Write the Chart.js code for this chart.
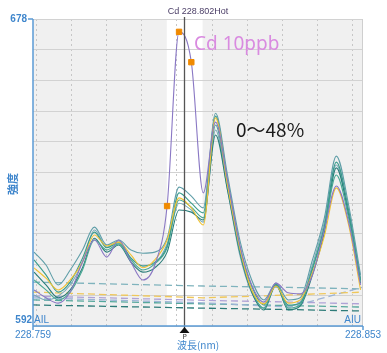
<!DOCTYPE html>
<html><head><meta charset="utf-8">
<script src="https://cdn.jsdelivr.net/npm/chart.js@4/dist/chart.umd.min.js"></script>
<style>html,body{margin:0;padding:0;background:#fff}#wrap{width:387px;height:353px;position:relative}</style>
</head><body><div id="wrap"><canvas id="c" width="387" height="353"></canvas></div>
<script>
// ---- data ----
const wavelengths = [228.7593, 228.7627, 228.7662, 228.7696, 228.7731, 228.7765, 228.7800, 228.7834, 228.7869, 228.7903,
  228.7937, 228.7972, 228.8006, 228.8041, 228.8075, 228.8110, 228.8144, 228.8179, 228.8213, 228.8248,
  228.8282, 228.8317, 228.8351, 228.8386, 228.8420, 228.8454, 228.8489, 228.8523];
const cd10ppb = [602.1, 599.9, 598.4, 601.5, 609.9, 616.1, 611.3, 616.1, 609.9, 604.9,
  609.1, 625.6, 674.4, 665.9, 629.3, 649.1, 632.9, 614.7, 603.5, 598.7,
  604.0, 601.3, 601.0, 606.3, 618.9, 631.2, 621.1, 603.5];
const sampleA = [612.7, 609.1, 603.5, 607.7, 613.3, 619.7, 614.7, 616.1, 613.3, 612.4,
  612.7, 616.6, 630.9, 628.4, 625.1, 651.6, 634.3, 616.1, 604.9, 599.3,
  604.0, 599.3, 599.9, 610.5, 622.3, 639.6, 625.9, 606.3];
const sampleB = [610.5, 606.3, 601.5, 604.3, 611.0, 618.3, 613.9, 615.3, 611.0, 608.8,
  609.9, 614.4, 629.3, 626.4, 623.7, 650.8, 632.9, 614.4, 603.2, 597.9,
  603.8, 597.9, 598.4, 608.3, 620.0, 637.9, 624.5, 604.9];
const sampleC = [607.1, 603.5, 599.9, 602.1, 608.3, 616.6, 612.7, 614.7, 609.9, 607.1,
  608.3, 612.7, 624.5, 623.9, 621.7, 645.5, 630.1, 612.7, 601.5, 596.5,
  603.5, 596.5, 597.6, 606.3, 618.3, 636.3, 623.1, 604.0];
const sampleD = [608.3, 605.4, 602.1, 604.9, 609.9, 617.5, 614.4, 615.5, 611.9, 608.3,
  610.5, 616.1, 627.9, 625.1, 620.3, 650.3, 631.5, 613.9, 602.1, 598.2,
  603.2, 598.4, 599.3, 606.9, 617.2, 630.7, 620.3, 602.1];
const sampleE = [604.9, 602.1, 599.3, 601.5, 607.7, 616.1, 613.3, 615.0, 610.5, 607.7,
  609.4, 613.9, 627.3, 625.3, 622.3, 648.3, 631.5, 613.3, 602.1, 597.0,
  603.8, 597.0, 597.9, 607.7, 619.5, 634.3, 622.3, 604.3];
const sampleF = [600.7, 599.3, 600.4, 603.5, 609.9, 618.9, 614.1, 615.8, 611.0, 608.8,
  609.6, 615.0, 626.4, 624.5, 621.1, 646.9, 630.1, 611.9, 601.3, 597.0,
  603.2, 597.6, 598.7, 609.1, 621.1, 637.1, 623.9, 605.4];
// peak-search points on the Cd line
const peakPointsX = [228.7972, 228.8006, 228.8041];
const peakPointsY = [625.6, 674.4, 665.9];
// background baselines
const baselineX = [228.759, 228.8075, 228.8322, 228.853];
const baseline1 = [604.3, 603.2, 602.8, 602.4];
const baseline2 = [601.5, 599.9, 600.7, 601.5];
const baseline3 = [599.9, 598.5, 597.3, 602.9];
const baseline4 = [599.3, 598.2, 597.7, 597.3];
const baseline5 = [597.9, 597.0, 596.6, 596.2];
const baseline6 = [600.4, 599.2, 598.7, 598.2];
const xMin = 228.759, xMax = 228.853, yMin = 592, yMax = 678;
const peakWavelength = 228.802;
const windowLow = 228.7971, windowHigh = 228.8073;
const xGrid = [228.760, 228.770, 228.780, 228.790, 228.800, 228.810, 228.820, 228.830, 228.840, 228.850];
const yGrid = [592, 600.6, 609.2, 617.8, 626.4, 635, 643.6, 652.2, 660.8, 669.4, 678];
const xLabels = ['228.759', '228.853'];
const yLabels = ['678', '592'];
const chartTitle = 'Cd 228.802Hot';
const xTitle = '波長(nm)';
const yTitle = '強度';
const note1 = 'Cd 10ppb';
const note2 = '0～48%';

const pts = (xs, ys) => xs.map((x, i) => ({x, y: ys[i]}));
const solid = (data, color) => ({data: pts(wavelengths, data), borderColor: color, borderWidth: 1.1,
  pointRadius: 0, fill: false, cubicInterpolationMode: 'monotone'});
const dashed = (data, color) => ({data: pts(baselineX, data), borderColor: color, borderWidth: 1.3,
  borderDash: [7, 4], pointRadius: 0, fill: false, tension: 0});

const BLUE = '#3f86cc';
const deco = {
  id: 'deco',
  beforeDraw(chart) {
    const {ctx, chartArea: a, scales: {x}} = chart;
    ctx.save();
    ctx.fillStyle = '#f0f0f0';
    ctx.fillRect(a.left, a.top, a.right - a.left, a.bottom - a.top);
    ctx.fillStyle = '#ffffff';
    const l = x.getPixelForValue(windowLow), r = x.getPixelForValue(windowHigh);
    ctx.fillRect(l, a.top, r - l, a.bottom - a.top);
    ctx.restore();
  },
  afterDraw(chart) {
    const {ctx, chartArea: a, scales: {x, y}} = chart;
    ctx.save();
    // right border
    ctx.strokeStyle = '#cfcfcf'; ctx.lineWidth = 1;
    ctx.beginPath(); ctx.moveTo(a.right - 0.5, a.top); ctx.lineTo(a.right - 0.5, a.bottom); ctx.stroke();
    // peak line
    const px = Math.round(x.getPixelForValue(peakWavelength)) + 0.5;
    ctx.strokeStyle = '#555'; ctx.lineWidth = 1.3;
    ctx.beginPath(); ctx.moveTo(px, a.top - 2); ctx.lineTo(px, a.bottom + 3); ctx.stroke();
    // axes
    ctx.strokeStyle = '#5b9bd5'; ctx.lineWidth = 1.5;
    ctx.beginPath();
    ctx.moveTo(a.left, a.top); ctx.lineTo(a.left, a.bottom + 4);
    ctx.moveTo(a.left - 5, a.top); ctx.lineTo(a.left, a.top);
    ctx.moveTo(a.left, a.bottom); ctx.lineTo(a.right, a.bottom);
    ctx.moveTo(a.right, a.bottom); ctx.lineTo(a.right, a.bottom + 4);
    ctx.stroke();
    // arrow marker
    ctx.fillStyle = '#111';
    ctx.beginPath(); ctx.moveTo(px, a.bottom + 1); ctx.lineTo(px - 5, a.bottom + 7); ctx.lineTo(px + 5, a.bottom + 7); ctx.closePath(); ctx.fill();
    ctx.font = '7px "DejaVu Sans"'; ctx.fillStyle = '#333'; ctx.textAlign = 'center'; ctx.textBaseline = 'middle';
    ctx.fillText('P', px, a.bottom + 11);
    // labels
    ctx.fillStyle = BLUE;
    ctx.font = '10px "Liberation Sans", "Noto Sans"';
    ctx.textBaseline = 'middle';
    ctx.textAlign = 'center';
    ctx.fillText(xLabels[0], x.getPixelForValue(xMin), a.bottom + 9);
    ctx.fillText(xLabels[1], x.getPixelForValue(xMax), a.bottom + 9);
    ctx.textAlign = 'right';
    ctx.font = 'bold 10px "Liberation Sans", "Noto Sans"';
    ctx.fillText(yLabels[0], a.left - 6, y.getPixelForValue(yMax));
    ctx.fillText(yLabels[1], a.left - 1, y.getPixelForValue(yMin) - 6);
    ctx.font = '10px "Liberation Sans", "Noto Sans"';
    ctx.textAlign = 'left';
    ctx.fillText('AIL', a.left + 1, a.bottom - 6);
    ctx.textAlign = 'right';
    ctx.fillText('AIU', a.right - 2, a.bottom - 6);
    // axis titles
    const cx = (a.left + a.right) / 2;
    ctx.textAlign = 'center';
    ctx.font = '10px "Noto Sans CJK JP"';
    ctx.fillText(xTitle, cx, a.bottom + 19);
    ctx.save();
    ctx.translate(13, 184); ctx.rotate(-Math.PI / 2);
    ctx.font = 'bold 11px "Noto Sans CJK JP"';
    ctx.fillText(yTitle, 0, 0);
    ctx.restore();
    ctx.fillStyle = '#4a3d66';
    ctx.font = '9px "Liberation Sans", "Noto Sans"';
    ctx.fillText(chartTitle, cx, a.top - 7);
    // notes
    ctx.textAlign = 'left'; ctx.textBaseline = 'alphabetic';
    ctx.fillStyle = '#d98be0';
    ctx.font = '19px "Noto Sans", "DejaVu Sans"';
    ctx.fillText(note1, 194, 50);
    ctx.fillStyle = '#1a1a1a';
    ctx.font = '19px "Noto Sans CJK JP"';
    ctx.fillText(note2, 236, 137);
    ctx.restore();
  }
};

new Chart(document.getElementById('c'), {
  type: 'line',
  data: {
    datasets: [
      {data: pts(peakPointsX, peakPointsY), showLine: false, pointStyle: 'rect', pointRadius: 3.8,
        pointBackgroundColor: '#f08a00', pointBorderColor: '#f08a00', borderColor: '#f08a00'},
      solid(cd10ppb, '#8a78c4'),
      solid(sampleD, '#f1c232'),
      solid(sampleA, '#5f9ea8'),
      solid(sampleB, '#3a9c8c'),
      solid(sampleE, '#49a894'),
      solid(sampleC, '#2a7d7a'),
      solid(sampleF, '#78aab8'),
      dashed(baseline1, '#7fb3bd'),
      dashed(baseline2, '#efc75a'),
      dashed(baseline3, '#9db4d6'),
      dashed(baseline4, '#55a89c'),
      dashed(baseline5, '#2d7b78'),
      dashed(baseline6, '#b0a2d6')
    ]
  },
  options: {
    responsive: false, animation: false, devicePixelRatio: 1,
    layout: {padding: {left: 33, top: 19, right: 24, bottom: 27}},
    plugins: {legend: {display: false}, tooltip: {enabled: false}},
    scales: {
      x: {type: 'linear', min: xMin, max: xMax,
        afterBuildTicks: s => { s.ticks = xGrid.map(v => ({value: v})); },
        ticks: {display: false},
        grid: {color: '#c6c6c6', lineWidth: 1, drawTicks: false},
        border: {display: false, dash: [2, 3]}},
      y: {type: 'linear', min: yMin, max: yMax,
        afterBuildTicks: s => { s.ticks = yGrid.map(v => ({value: v})); },
        ticks: {display: false},
        grid: {color: '#d2d2d2', lineWidth: 1, drawTicks: false},
        border: {display: false}}
    }
  },
  plugins: [deco]
});
</script></body></html>
